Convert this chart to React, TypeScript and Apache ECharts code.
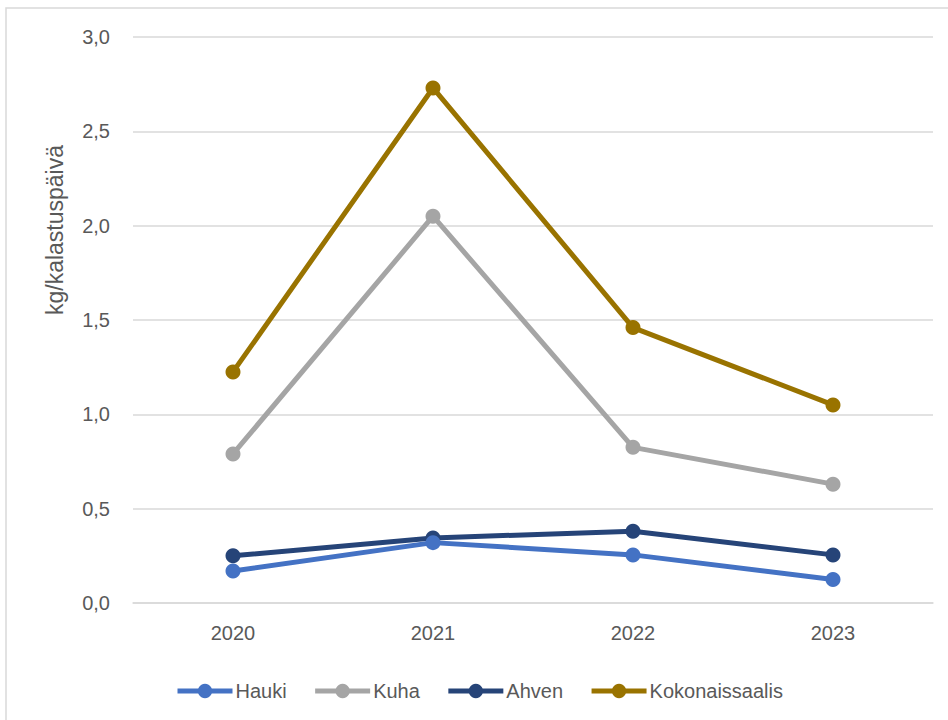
import React, { useEffect, useRef } from "react";
import * as echarts from "echarts";

const years = ["2020", "2021", "2022", "2023"];
const hauki = [0.17, 0.32, 0.255, 0.125];
const kuha = [0.79, 2.05, 0.825, 0.63];
const ahven = [0.25, 0.345, 0.38, 0.255];
const kokonaissaalis = [1.225, 2.73, 1.46, 1.05];
const seriesNames = ["Hauki", "Kuha", "Ahven", "Kokonaissaalis"];
const seriesColors = ["#4472C4", "#A5A5A5", "#264478", "#997300"];
const yAxisTitle = "kg/kalastuspäivä";

export default function App() {
  const ref = useRef<HTMLDivElement>(null);
  useEffect(() => {
    if (!ref.current) return;
    const chart = echarts.init(ref.current, undefined, { renderer: "svg" });
    const data = [hauki, kuha, ahven, kokonaissaalis];
    const font = "'Liberation Sans', Arial, sans-serif";
    chart.setOption({
      animation: false,
      backgroundColor: "#ffffff",
      textStyle: { fontFamily: font },
      grid: { left: 133, right: 15, top: 37, bottom: 117 },
      graphic: [
        {
          type: "rect",
          shape: { x: 6, y: 8, width: 1000, height: 800 },
          style: { fill: "none", stroke: "#D9D9D9", lineWidth: 1.5 },
          silent: true,
        },
        {
          type: "text",
          x: 55,
          y: 230,
          rotation: Math.PI / 2,
          style: {
            text: yAxisTitle,
            fill: "#595959",
            fontSize: 23,
            fontFamily: font,
            align: "center",
            verticalAlign: "middle",
          },
        },
      ],
      legend: {
        top: 676,
        left: 170,
        itemWidth: 55,
        itemHeight: 18,
        itemGap: 26,
        lineStyle: { width: 5 },
        textStyle: { color: "#595959", fontSize: 20, fontFamily: font, padding: [0, 0, 0, -2] },
        data: seriesNames,
      },
      xAxis: {
        type: "category",
        data: years,
        boundaryGap: true,
        axisTick: { show: false },
        axisLine: { lineStyle: { color: "#D9D9D9", width: 1.5 } },
        axisLabel: { color: "#595959", fontSize: 20, margin: 20, fontFamily: font },
      },
      yAxis: {
        type: "value",
        min: 0,
        max: 3,
        interval: 0.5,
        axisLine: { show: false },
        axisTick: { show: false },
        splitLine: { lineStyle: { color: "#D9D9D9", width: 1.5 } },
        axisLabel: {
          color: "#595959",
          fontSize: 20,
          margin: 23,
          fontFamily: font,
          formatter: (v: number) => v.toFixed(1).replace(".", ","),
        },
      },
      series: seriesNames.map((name, i) => ({
        name,
        type: "line",
        data: data[i],
        symbol: "circle",
        symbolSize: 15,
        lineStyle: { color: seriesColors[i], width: 5 },
        itemStyle: { color: seriesColors[i], borderWidth: 0 },
        z: 2 + (i === 0 ? 1 : 0),
      })),
    });
    return () => chart.dispose();
  }, []);
  return (
    <div
      ref={ref}
      style={{ position: "absolute", left: 0, top: 0, width: 948, height: 720 }}
    />
  );
}
